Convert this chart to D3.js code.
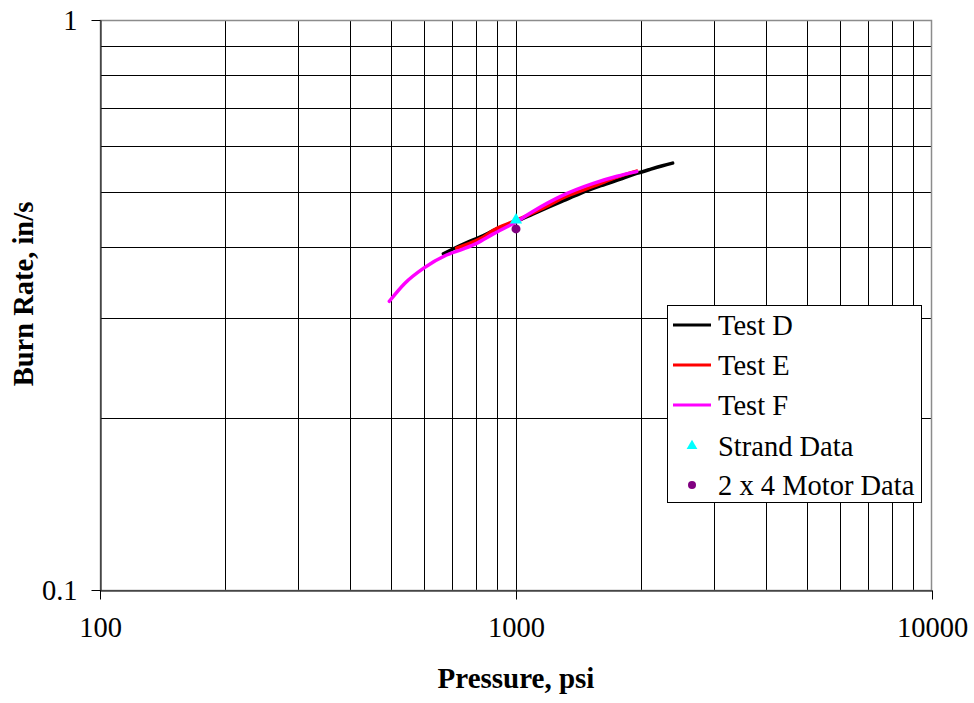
<!DOCTYPE html>
<html>
<head>
<meta charset="utf-8">
<script src="https://cdn.jsdelivr.net/npm/d3@7"></script>
<style>
  html, body { margin: 0; padding: 0; background: #fff; }
  svg { display: block; }
</style>
</head>
<body>
<svg id="chart" width="974" height="703"></svg>
<script>
// ---- Data ----
const xTickValues = [100, 1000, 10000];
const xTickLabels = ["100", "1000", "10000"];
const yTickValues = [0.1, 1];
const yTickLabels = ["0.1", "1"];
const xGridValues = [200, 300, 400, 500, 600, 700, 800, 900, 1000, 2000, 3000, 4000, 5000, 6000, 7000, 8000, 9000];
const yGridValues = [0.2, 0.3, 0.4, 0.5, 0.6, 0.7, 0.8, 0.9];

const testDPressure = [669, 750, 819, 900, 1000, 1100, 1200, 1300, 1425, 1600, 1800, 1950, 2100, 2250, 2380];
const testDRate     = [0.389, 0.405, 0.416, 0.430, 0.443, 0.457, 0.470, 0.482, 0.496, 0.512, 0.527, 0.538, 0.547, 0.555, 0.561];

const testEPressure = [720, 819, 900, 1000, 1150, 1300, 1560, 1750, 1950];
const testERate     = [0.398, 0.413, 0.431, 0.445, 0.466, 0.488, 0.513, 0.530, 0.543];

const testFPressure = [496, 540, 600, 681, 750, 804, 880, 1004, 1100, 1299, 1534, 1750, 1951];
const testFRate     = [0.321, 0.345, 0.367, 0.387, 0.397, 0.4057, 0.421, 0.443, 0.462, 0.493, 0.517, 0.532, 0.542];

const strandPressure = [1000];
const strandRate = [0.4457];
const motorPressure = [1000];
const motorRate = [0.430];

const seriesNames = ["Test D", "Test E", "Test F", "Strand Data", "2 x 4 Motor Data"];
const seriesColors = ["#000000", "#FF0000", "#FF00FF", "#00FFFF", "#800080"];

// ---- Chart ----
const svg = d3.select("#chart");
const pLeft = 100, pRight = 932, pTop = 20, pBottom = 590;
const x = d3.scaleLog().domain([100, 10000]).range([pLeft, pRight]);
const y = d3.scaleLog().domain([0.1, 1]).range([pBottom, pTop]);
const serif = "'Liberation Serif', 'Times New Roman', serif";

// grid
const g = svg.append("g");
g.selectAll(".vg").data(xGridValues).enter().append("line")
  .attr("x1", d => Math.round(x(d)) + 0.5).attr("x2", d => Math.round(x(d)) + 0.5)
  .attr("y1", pTop).attr("y2", pBottom)
  .attr("stroke", "#000").attr("stroke-width", 1);
g.selectAll(".hg").data(yGridValues).enter().append("line")
  .attr("y1", d => Math.round(y(d)) + 0.5).attr("y2", d => Math.round(y(d)) + 0.5)
  .attr("x1", pLeft).attr("x2", pRight)
  .attr("stroke", "#000").attr("stroke-width", 1);

// frame (grey top/right)
svg.append("rect").attr("x", pLeft + 0.5).attr("y", pTop + 0.5)
  .attr("width", pRight - pLeft - 1).attr("height", pBottom - pTop)
  .attr("fill", "none").attr("stroke", "#8c8c8c").attr("stroke-width", 1.5);

// axes
const xAxis = d3.axisBottom(x).tickValues(xTickValues)
  .tickFormat((d, i) => xTickLabels[i]).tickSize(9).tickSizeOuter(0).tickPadding(17);
const yAxis = d3.axisLeft(y).tickValues(yTickValues)
  .tickFormat((d, i) => yTickLabels[i]).tickSize(9).tickSizeOuter(0).tickPadding(14);

const gx = svg.append("g").attr("transform", `translate(0,${pBottom + 0.5})`).call(xAxis);
const gy = svg.append("g").attr("transform", `translate(${pLeft + 0.5},0)`).call(yAxis);
[gx, gy].forEach(a => {
  a.selectAll("path, line").attr("stroke", "#000").attr("stroke-width", 1);
  a.selectAll("text").attr("font-family", serif).attr("font-size", 28.5).attr("fill", "#000");
});
gx.selectAll("text").attr("dy", "0.71em");
gy.selectAll("text").attr("dy", "0.34em");

// lines
const line = d3.line().x(d => x(d[0])).y(d => y(d[1])).curve(d3.curveMonotoneX);
const lineSeries = [
  [testDPressure, testDRate, seriesColors[0]],
  [testEPressure, testERate, seriesColors[1]],
  [testFPressure, testFRate, seriesColors[2]]
];
lineSeries.forEach(([px, py, c]) => {
  svg.append("path").datum(px.map((p, i) => [p, py[i]]))
    .attr("d", line).attr("fill", "none").attr("stroke", c)
    .attr("stroke-width", 3.5).attr("stroke-linecap", "round").attr("stroke-linejoin", "round");
});

// markers
const tri = d3.symbol().type(d3.symbolTriangle).size(65);
svg.selectAll(".strand").data(strandPressure.map((p, i) => [p, strandRate[i]])).enter()
  .append("path").attr("d", tri)
  .attr("transform", d => `translate(${x(d[0])},${y(d[1])})`)
  .attr("fill", seriesColors[3]);
svg.selectAll(".motor").data(motorPressure.map((p, i) => [p, motorRate[i]])).enter()
  .append("circle").attr("cx", d => x(d[0])).attr("cy", d => y(d[1])).attr("r", 4.5)
  .attr("fill", seriesColors[4]);

// axis titles
svg.append("text").attr("x", (pLeft + pRight) / 2).attr("y", 688)
  .attr("text-anchor", "middle").attr("font-family", serif).attr("font-weight", "bold")
  .attr("font-size", 29).text("Pressure, psi");
svg.append("text").attr("transform", "translate(33,294) rotate(-90)")
  .attr("text-anchor", "middle").attr("font-family", serif).attr("font-weight", "bold")
  .attr("font-size", 28.5).text("Burn Rate, in/s");

// legend
const lg = svg.append("g");
lg.append("rect").attr("x", 667.5).attr("y", 305.5).attr("width", 254).attr("height", 197)
  .attr("fill", "#fff").attr("stroke", "#000").attr("stroke-width", 1);
const rowY = [325, 365, 405, 446, 485];
seriesNames.forEach((name, i) => {
  const cy = rowY[i];
  if (i < 3) {
    lg.append("line").attr("x1", 673).attr("x2", 711).attr("y1", cy).attr("y2", cy)
      .attr("stroke", seriesColors[i]).attr("stroke-width", 3);
  } else if (i === 3) {
    lg.append("path").attr("d", d3.symbol().type(d3.symbolTriangle).size(50)).attr("transform", `translate(692,${cy})`)
      .attr("fill", seriesColors[i]);
  } else {
    lg.append("circle").attr("cx", 692).attr("cy", cy).attr("r", 4).attr("fill", seriesColors[i]);
  }
  lg.append("text").attr("x", 718).attr("y", cy).attr("dy", "0.35em")
    .attr("font-family", serif).attr("font-size", 28.5).attr("fill", "#000").text(name);
});
</script>
</body>
</html>
